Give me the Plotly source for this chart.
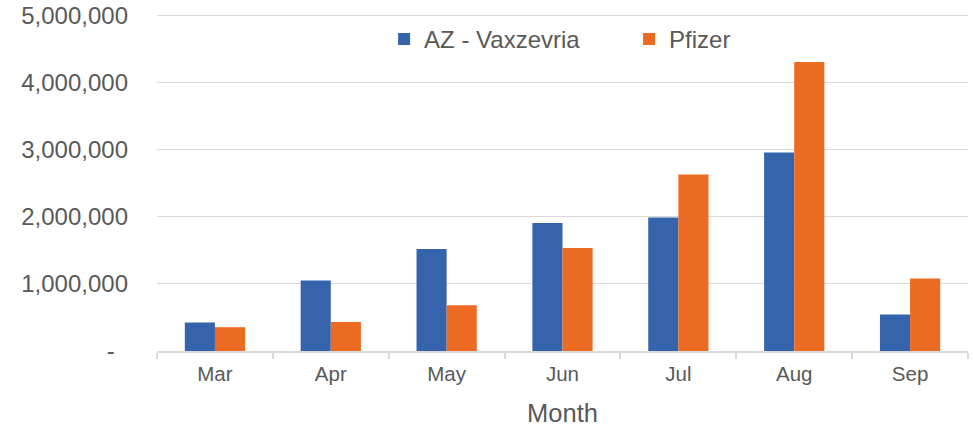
import plotly.graph_objects as go

months = ["Mar", "Apr", "May", "Jun", "Jul", "Aug", "Sep"]
az_vaxzevria = [425000, 1050000, 1520000, 1910000, 1990000, 2960000, 545000]
pfizer = [355000, 433000, 683000, 1535000, 2630000, 4310000, 1080000]
y_tick_values = [0, 1000000, 2000000, 3000000, 4000000, 5000000]
y_tick_labels = ["-\u00a0\u00a0", "1,000,000", "2,000,000", "3,000,000", "4,000,000", "5,000,000"]

FONT = "Liberation Sans, Arial, sans-serif"
GREY = "#595959"

fig = go.Figure()
fig.add_trace(go.Bar(x=months, y=az_vaxzevria, name="AZ - Vaxzevria",
                     marker=dict(color="#3564AD", line=dict(width=0))))
fig.add_trace(go.Bar(x=months, y=pfizer, name="Pfizer",
                     marker=dict(color="#EC6B23", line=dict(width=0))))

fig.update_layout(
    width=974, height=430,
    margin=dict(l=157, r=6, t=13, b=79),
    paper_bgcolor="white", plot_bgcolor="white",
    font=dict(family=FONT, color=GREY),
    barmode="group", bargap=0.48, bargroupgap=0,
    showlegend=True,
    legend=dict(orientation="h", x=0.28, xanchor="left", y=0.922, yanchor="middle",
                font=dict(size=24, color=GREY), entrywidth=200, entrywidthmode="pixels",
                bgcolor="rgba(0,0,0,0)", itemwidth=30),
    xaxis=dict(
        type="category", tickson="boundaries", ticks="outside", ticklen=6,
        tickcolor="#d9d9d9", tickwidth=1.5,
        showline=True, linecolor="#d9d9d9", linewidth=1.5,
        tickfont=dict(size=20.5, color=GREY), ticklabelstandoff=4,
        title=dict(text="Month", font=dict(size=25.5, color=GREY), standoff=20),
        showgrid=False, automargin=False,
    ),
    yaxis=dict(
        range=[0, 5040000], tickvals=y_tick_values, ticktext=y_tick_labels,
        showgrid=True, gridcolor="#d9d9d9", gridwidth=1.2,
        zeroline=False, showline=False,
        tickfont=dict(size=24, color=GREY), ticklabeloverflow="allow",
        ticks="", ticklabelstandoff=28, automargin=False,
    ),
)

fig.write_html("out.html", config={"displayModeBar": False},
               post_script="document.body.style.margin='0';")
